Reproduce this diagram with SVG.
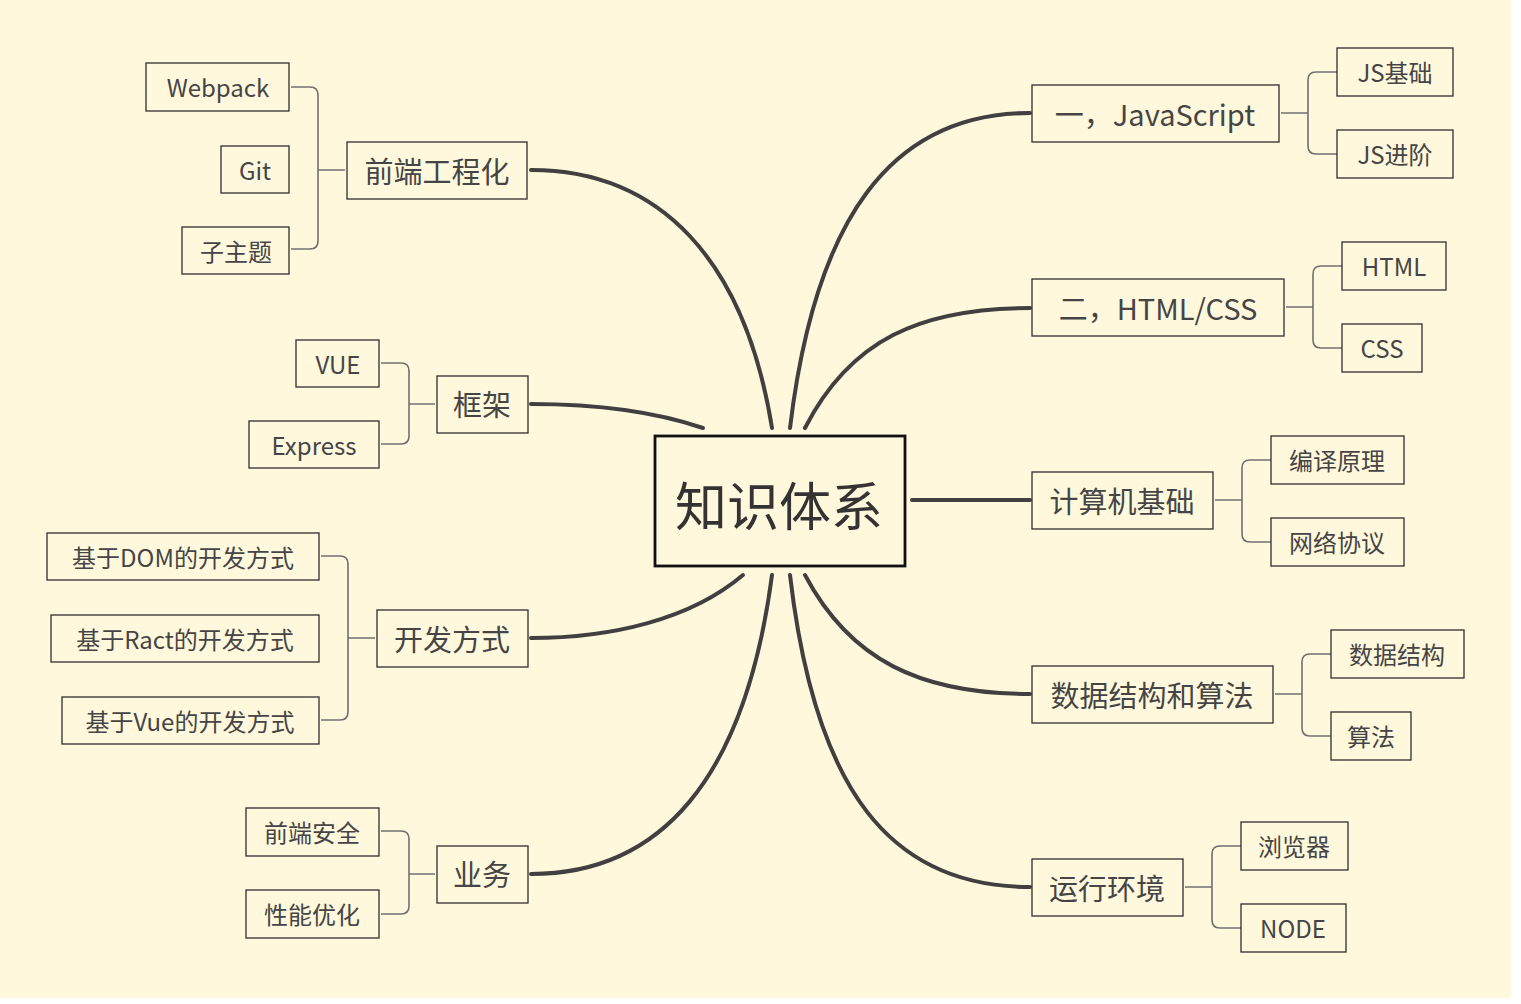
<svg xmlns="http://www.w3.org/2000/svg" width="1521" height="1004" viewBox="0 0 1521 1004">
<style>
.bg{fill:#fff8dc}
.box{fill:none;stroke:#2e2e2e;stroke-width:1.3}
.cbox{fill:none;stroke:#111;stroke-width:2.8}
.main{fill:none;stroke:#404040;stroke-width:4;stroke-linecap:round}
.br{fill:none;stroke:#707070;stroke-width:1.6}
text{font-family:"Noto Sans CJK SC","Noto Sans",sans-serif;fill:#454545;text-anchor:middle;dominant-baseline:central}
.t1{font-size:29px}
.t2{font-size:24px}
.t0{font-size:52px;fill:#333}
</style>
<rect x="0" y="0" width="1521" height="1004" fill="#fff"/>
<rect class="bg" x="0" y="0" width="1511" height="998"/>
<g id="connectors">
<path class="main" d="M790,428 C815,220 890,113 1030,113"/>
<path class="main" d="M805,428 C850,340 920,308 1030,308"/>
<path class="main" d="M912,500 L1030,500"/>
<path class="main" d="M805,575 C850,660 920,694 1030,694"/>
<path class="main" d="M790,575 C815,790 890,887 1030,887"/>
<path class="main" d="M772,428 C745,260 660,170 531,170"/>
<path class="main" d="M703,428 C650,410 590,404 531,404"/>
<path class="main" d="M743,575 C690,620 610,638 531,638"/>
<path class="main" d="M772,575 C745,780 660,874 531,874"/>
<path class="br" d="M1281,113 H1308 M1337,72 H1316 Q1308,72 1308,80 V146 Q1308,154 1316,154 H1337"/>
<path class="br" d="M1286,307 H1313 M1342,266 H1321 Q1313,266 1313,274 V340 Q1313,348 1321,348 H1342"/>
<path class="br" d="M1215,500 H1242 M1271,460 H1250 Q1242,460 1242,468 V534 Q1242,542 1250,542 H1271"/>
<path class="br" d="M1275,694 H1302 M1331,654 H1310 Q1302,654 1302,662 V728 Q1302,736 1310,736 H1331"/>
<path class="br" d="M1185,887 H1212 M1241,846 H1220 Q1212,846 1212,854 V920 Q1212,928 1220,928 H1241"/>
<path class="br" d="M345,170 H318 M291,87 H310 Q318,87 318,95 V241 Q318,249 310,249 H291"/>
<path class="br" d="M435,404 H409 M381,363 H401 Q409,363 409,371 V436 Q409,444 401,444 H381"/>
<path class="br" d="M375,638 H348 M321,556 H340 Q348,556 348,564 V712 Q348,720 340,720 H321"/>
<path class="br" d="M435,874 H409 M381,831 H401 Q409,831 409,839 V906 Q409,914 401,914 H381"/>
</g>
<g id="center"><rect class="cbox" x="655" y="436" width="250" height="130"/><text class="t0" x="779" y="503">知识体系</text></g>
<g id="js"><rect class="box" x="1032" y="85" width="247" height="57"/><text class="t1" x="1155" y="113">一，JavaScript</text></g>
<g id="js1"><rect class="box" x="1337" y="48" width="116" height="48"/><text class="t2" x="1395" y="71">JS基础</text></g>
<g id="js2"><rect class="box" x="1337" y="130" width="116" height="48"/><text class="t2" x="1395" y="153">JS进阶</text></g>
<g id="html"><rect class="box" x="1032" y="279" width="252" height="57"/><text class="t1" x="1158" y="307">二，HTML/CSS</text></g>
<g id="html1"><rect class="box" x="1342" y="242" width="104" height="48"/><text class="t2" x="1394" y="265">HTML</text></g>
<g id="css"><rect class="box" x="1342" y="324" width="80" height="48"/><text class="t2" x="1382" y="347">CSS</text></g>
<g id="cs"><rect class="box" x="1032" y="472" width="181" height="57"/><text class="t1" x="1122" y="500">计算机基础</text></g>
<g id="cs1"><rect class="box" x="1271" y="436" width="133" height="48"/><text class="t2" x="1337" y="459">编译原理</text></g>
<g id="cs2"><rect class="box" x="1271" y="518" width="133" height="48"/><text class="t2" x="1337" y="541">网络协议</text></g>
<g id="ds"><rect class="box" x="1032" y="666" width="241" height="57"/><text class="t1" x="1152" y="694">数据结构和算法</text></g>
<g id="ds1"><rect class="box" x="1331" y="630" width="133" height="48"/><text class="t2" x="1397" y="653">数据结构</text></g>
<g id="ds2"><rect class="box" x="1331" y="712" width="80" height="48"/><text class="t2" x="1371" y="735">算法</text></g>
<g id="rt"><rect class="box" x="1032" y="859" width="151" height="57"/><text class="t1" x="1107" y="887">运行环境</text></g>
<g id="rt1"><rect class="box" x="1241" y="822" width="107" height="48"/><text class="t2" x="1294" y="845">浏览器</text></g>
<g id="rt2"><rect class="box" x="1241" y="904" width="105" height="48"/><text class="t2" x="1293" y="927">NODE</text></g>
<g id="fe"><rect class="box" x="347" y="142" width="180" height="57"/><text class="t1" x="437" y="170">前端工程化</text></g>
<g id="fe1"><rect class="box" x="146" y="63" width="143" height="48"/><text class="t2" x="218" y="86">Webpack</text></g>
<g id="fe2"><rect class="box" x="221" y="146" width="68" height="47"/><text class="t2" x="255" y="169">Git</text></g>
<g id="fe3"><rect class="box" x="182" y="227" width="107" height="47"/><text class="t2" x="236" y="250">子主题</text></g>
<g id="fw"><rect class="box" x="437" y="376" width="91" height="57"/><text class="t1" x="482" y="403">框架</text></g>
<g id="fw1"><rect class="box" x="296" y="340" width="83" height="47"/><text class="t2" x="338" y="363">VUE</text></g>
<g id="fw2"><rect class="box" x="249" y="421" width="130" height="47"/><text class="t2" x="314" y="444">Express</text></g>
<g id="dev"><rect class="box" x="377" y="610" width="151" height="57"/><text class="t1" x="452" y="638">开发方式</text></g>
<g id="dev1"><rect class="box" x="47" y="533" width="272" height="47"/><text class="t2" x="183" y="556">基于DOM的开发方式</text></g>
<g id="dev2"><rect class="box" x="51" y="615" width="268" height="47"/><text class="t2" x="185" y="638">基于Ract的开发方式</text></g>
<g id="dev3"><rect class="box" x="62" y="697" width="257" height="47"/><text class="t2" x="190" y="720">基于Vue的开发方式</text></g>
<g id="biz"><rect class="box" x="437" y="846" width="91" height="57"/><text class="t1" x="482" y="873">业务</text></g>
<g id="biz1"><rect class="box" x="246" y="808" width="133" height="48"/><text class="t2" x="312" y="831">前端安全</text></g>
<g id="biz2"><rect class="box" x="246" y="890" width="133" height="48"/><text class="t2" x="312" y="913">性能优化</text></g>
</svg>
